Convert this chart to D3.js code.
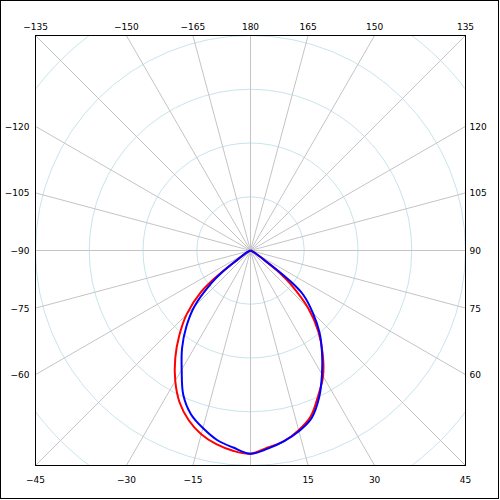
<!DOCTYPE html>
<html>
<head>
<meta charset="utf-8">
<script src="https://cdn.jsdelivr.net/npm/d3@7"></script>
<style>
  body { margin: 0; background: #fff; }
  svg { display: block; }
  text { font-family: "DejaVu Sans", sans-serif; font-size: 9px; fill: #000; }
</style>
</head>
<body>
<div id="chart"></div>
<script>
// angles (deg, 0 = straight down, positive to the right)
var angles = [-180, -90, -75, -70, -65, -60, -55, -52.5, -50, -45, -40, -35, -30, -25, -20, -15, -10, -5,
              0, 5, 10, 15, 20, 25, 30, 35, 40, 45, 50, 52.5, 55, 60, 65, 70, 75, 90, 180];

// intensity, red series
var redValues = [0, 0, 0, 0, 2, 6, 16, 39, 60, 84, 103, 122, 140, 156, 168, 177, 183, 187,
                 189, 184, 180, 173, 164, 149, 135, 117, 98, 76, 49, 35, 16, 6, 2, 0, 0, 0, 0];

// intensity, blue series
var blueValues = [0, 0, 0, 1, 2, 5, 14, 33, 48, 74, 93, 111, 128, 148, 162, 171, 179, 184,
                  189, 185, 180, 174, 166, 151, 133, 116, 100, 82, 64, 45, 19, 6, 2, 1, 0, 0, 0];

var ringValues = [50, 100, 150, 200, 250];
var rayAngles = d3.range(-165, 181, 15);

var size = 500;
var cx = 250.5, cy = 250.5, half = 215;

var svg = d3.select('#chart')
    .append('svg')
    .attr('width', size)
    .attr('height', size);

// outer border
svg.append('rect')
    .attr('x', 0.5).attr('y', 0.5)
    .attr('width', 498).attr('height', 498)
    .attr('fill', 'none')
    .attr('stroke', '#000');

var r = d3.scaleLinear().domain([0, 200]).range([0, half]);

svg.append('defs').append('clipPath')
    .attr('id', 'frame-clip')
    .append('rect')
    .attr('x', cx - half).attr('y', cy - half)
    .attr('width', half * 2).attr('height', half * 2);

var g = svg.append('g')
    .attr('transform', 'translate(' + cx + ',' + cy + ')');

var grid = g.append('g').attr('clip-path', 'url(#frame-clip)')
    .attr('transform', 'translate(' + (-cx) + ',' + (-cy) + ')')
    .append('g')
    .attr('transform', 'translate(' + cx + ',' + cy + ')');

var rad = function (deg) { return deg * Math.PI / 180; };

// where a ray meets the square frame
function edgePoint(deg) {
    var s = Math.sin(rad(deg)), c = Math.cos(rad(deg));
    var t = half / Math.max(Math.abs(s), Math.abs(c));
    return [s * t, c * t, s, c];
}

grid.selectAll('.ring')
    .data(ringValues)
    .enter().append('circle')
    .attr('class', 'ring')
    .attr('r', function (d) { return r(d); })
    .attr('fill', 'none')
    .attr('stroke', '#c8e4ec')
    .attr('stroke-width', 1);

grid.selectAll('.ray')
    .data(rayAngles)
    .enter().append('line')
    .attr('class', 'ray')
    .attr('x1', 0).attr('y1', 0)
    .attr('x2', function (d) { return edgePoint(d)[0]; })
    .attr('y2', function (d) { return edgePoint(d)[1]; })
    .attr('stroke', '#c4c4c4')
    .attr('stroke-width', 1);

// frame
g.append('rect')
    .attr('x', -half).attr('y', -half)
    .attr('width', half * 2).attr('height', half * 2)
    .attr('fill', 'none')
    .attr('stroke', '#000')
    .attr('stroke-width', 1);

// angle labels on the frame
var fmt = function (d) { return d < 0 ? '\u2212' + (-d) : String(d); };

g.selectAll('.lbl')
    .data(rayAngles.filter(function (d) { return d !== 0; }))
    .enter().append('text')
    .attr('class', 'lbl')
    .each(function (d) {
        var p = edgePoint(d);
        var t = d3.select(this).text(fmt(d));
        if (Math.abs(p[3]) >= Math.abs(p[2]) - 1e-9) {
            // top or bottom edge
            t.attr('x', p[0])
             .attr('y', p[1] < 0 ? -half - 6 : half + 17)
             .attr('text-anchor', 'middle');
        } else {
            t.attr('x', p[0] < 0 ? -half - 6 : half + 4)
             .attr('y', p[1] + 3.5)
             .attr('text-anchor', p[0] < 0 ? 'end' : 'start');
        }
    });

// curves
var line = d3.lineRadial()
    .angle(function (d) { return Math.PI - rad(d[0]); })
    .radius(function (d) { return r(d[1]); })
    .curve(d3.curveCatmullRomClosed.alpha(0.5));

var series = [
    { color: '#ff0000', values: redValues },
    { color: '#0000ff', values: blueValues }
];

g.selectAll('.curve')
    .data(series)
    .enter().append('path')
    .attr('class', 'curve')
    .attr('d', function (s) {
        return line(angles.map(function (a, i) { return [a, s.values[i]]; }));
    })
    .attr('fill', 'none')
    .attr('stroke', function (s) { return s.color; })
    .attr('stroke-width', 2)
    .attr('stroke-linejoin', 'round');
</script>
</body>
</html>
